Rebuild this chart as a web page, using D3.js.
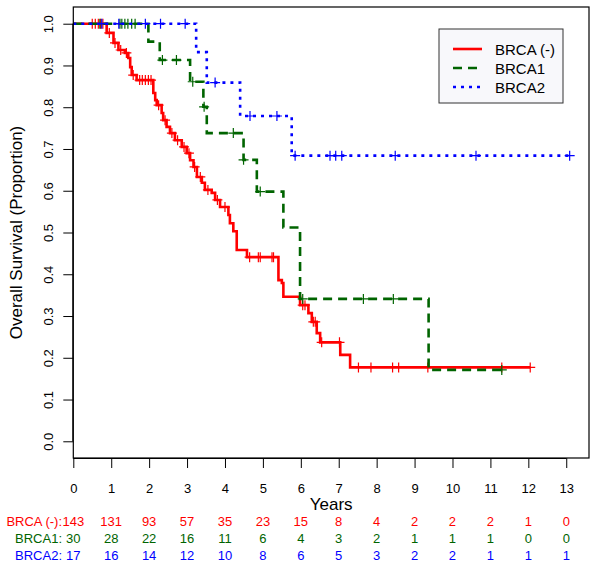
<!DOCTYPE html>
<html>
<head>
<meta charset="utf-8">
<script src="https://cdn.jsdelivr.net/npm/d3@7"></script>
<style>
  html, body { margin: 0; padding: 0; background: #fff; }
  svg text { font-family: "Liberation Sans", Arial, sans-serif; }
</style>
</head>
<body>
<svg id="chart" width="600" height="572"></svg>
<script>
// ---------------- data ----------------
const groups = ["BRCA (-)", "BRCA1", "BRCA2"];
const groupColors = ["#ff0000", "#006400", "#0000ff"];

// BRCA (-) : event times (years) and survival after each step
const negTimes = [0.88,1.06,1.19,1.36,1.45,1.50,1.54,1.67,2.11,2.16,2.20,2.33,2.37,2.46,2.55,2.68,2.86,2.99,3.08,3.17,3.26,3.39,3.47,3.65,3.74,3.87,4.09,4.13,4.22,4.31,4.58,5.41,5.50,5.54,5.98,6.20,6.29,6.42,6.51,7.04,7.30];
const negSurv  = [0.978,0.954,0.937,0.930,0.918,0.896,0.877,0.865,0.834,0.817,0.805,0.786,0.769,0.753,0.738,0.721,0.705,0.690,0.673,0.657,0.633,0.619,0.602,0.595,0.578,0.561,0.542,0.522,0.503,0.458,0.441,0.386,0.379,0.346,0.326,0.307,0.286,0.259,0.237,0.207,0.177];
const negEnd = 12.05;
const negCensor = [0.50,0.58,0.66,0.72,0.78,0.95,1.10,1.25,1.40,1.58,1.75,1.82,1.90,1.98,2.05,2.25,2.42,2.60,2.75,2.92,3.05,3.20,3.35,3.55,3.80,4.00,4.65,4.88,4.93,5.24,5.28,6.05,6.11,6.33,6.38,6.55,7.02,7.52,7.85,8.42,8.58,9.35,11.30,12.05];

// BRCA1
const b1Times = [1.98,2.28,3.08,3.43,3.52,4.49,4.84,5.54,5.98,9.37];
const b1Surv  = [0.957,0.913,0.861,0.801,0.738,0.674,0.598,0.512,0.341,0.171];
const b1End = 11.30;
const b1Censor = [0.70,1.23,1.28,1.36,1.44,1.54,1.63,2.35,2.72,3.15,3.45,4.22,4.49,4.93,6.05,7.65,8.44,11.30];

// BRCA2
const b2Times = [3.24,3.52,4.40,5.76];
const b2Surv  = [0.932,0.859,0.779,0.684];
const b2End = 13.09;
const b2Censor = [0.75,1.20,1.90,2.30,2.95,3.74,4.66,5.37,5.85,6.77,6.92,7.08,8.49,10.62,13.09];

// numbers at risk
const riskYears = [0,1,2,3,4,5,6,7,8,9,10,11,12,13];
const riskNeg = [143,131,93,57,35,23,15,8,4,2,2,2,1,0];
const riskB1  = [30,28,22,16,11,6,4,3,2,1,1,1,0,0];
const riskB2  = [17,16,14,12,10,8,6,5,3,2,2,1,1,1];
const riskLabels = ["BRCA (-):", "BRCA1:", "BRCA2:"];

const xTicks = d3.range(0, 14);
const yTicks = [0,0.1,0.2,0.3,0.4,0.5,0.6,0.7,0.8,0.9,1.0];
const xTitle = "Years";
const yTitle = "Overall Survival (Proportion)";

// ---------------- drawing ----------------
(function () {
const svg = d3.select("#chart");
const pL = 73.3, pR = 589, pT = 7, pB = 458;
const x = d3.scaleLinear().domain([0, 13.6]).range([pL, pR]);
const y = d3.scaleLinear().domain([-0.04, 1.04]).range([pB, pT]);

const series = [
  {times: negTimes, surv: negSurv, end: negEnd, censor: negCensor, color: groupColors[0], dash: null, width: 2.6},
  {times: b1Times, surv: b1Surv, end: b1End, censor: b1Censor, color: groupColors[1], dash: "9,6", width: 2.6},
  {times: b2Times, surv: b2Surv, end: b2End, censor: b2Censor, color: groupColors[2], dash: "3,5", width: 2.6}
];

function survAt(s, t) {
  let v = 1;
  for (let i = 0; i < s.times.length; i++) if (s.times[i] <= t) v = s.surv[i];
  return v;
}

const line = d3.line().x(d => x(d[0])).y(d => y(d[1])).curve(d3.curveStepAfter);

series.forEach(s => {
  const pts = [[0, 1]];
  s.times.forEach((t, i) => pts.push([t, s.surv[i]]));
  pts.push([s.end, s.surv[s.surv.length - 1]]);
  svg.append("path")
    .attr("d", line(pts))
    .attr("fill", "none")
    .attr("stroke", s.color)
    .attr("stroke-width", s.width)
    .attr("stroke-dasharray", s.dash);
  svg.append("g").selectAll("path").data(s.censor).join("path")
    .attr("transform", t => `translate(${x(t)},${y(survAt(s, t))})`)
    .attr("d", "M-5,0H5M0,-5V5")
    .attr("stroke", s.color)
    .attr("stroke-width", 1.2)
    .attr("fill", "none");
});

// plot box
svg.append("rect")
  .attr("x", pL).attr("y", pT)
  .attr("width", pR - pL).attr("height", pB - pT)
  .attr("fill", "none").attr("stroke", "#000").attr("stroke-width", 1.2);

// x axis
const xAxis = d3.axisBottom(x).tickValues(xTicks).tickSize(10).tickFormat(d3.format("d"));
const gx = svg.append("g").attr("transform", `translate(0,${pB})`).call(xAxis);
gx.select(".domain").attr("d", `M${x(0)},0.5H${x(13)}`);
gx.selectAll(".tick line").attr("stroke", "#000");
gx.selectAll("text").attr("font-size", 13).attr("fill", "#000").attr("dy", "0").attr("y", 35);

// y axis
const yAxis = d3.axisLeft(y).tickValues(yTicks).tickSize(10).tickFormat(d3.format(".1f"));
const gy = svg.append("g").attr("transform", `translate(${pL},0)`).call(yAxis);
gy.select(".domain").attr("d", `M-0.5,${y(0)}V${y(1)}`);
gy.selectAll(".tick line").attr("stroke", "#000");
gy.selectAll("text")
  .attr("font-size", 13).attr("fill", "#000")
  .attr("x", 0).attr("dy", 0)
  .attr("text-anchor", "middle")
  .attr("transform", "translate(-20,0) rotate(-90)");

// axis titles
svg.append("text").attr("x", (pL + pR) / 2).attr("y", 510)
  .attr("text-anchor", "middle").attr("font-size", 17).text(xTitle);
svg.append("text")
  .attr("transform", `translate(22,${(pT + pB) / 2}) rotate(-90)`)
  .attr("text-anchor", "middle").attr("font-size", 17).text(yTitle);

// legend
const lg = svg.append("g");
lg.append("rect").attr("x", 439).attr("y", 29).attr("width", 124).attr("height", 74)
  .attr("fill", "#f8f8fb").attr("stroke", "#333").attr("stroke-width", 1);
groups.forEach((g, i) => {
  const yy = 49 + i * 19;
  lg.append("line").attr("x1", 453).attr("x2", 482).attr("y1", yy).attr("y2", yy)
    .attr("stroke", series[i].color).attr("stroke-width", 2.6)
    .attr("stroke-dasharray", series[i].dash);
  lg.append("text").attr("x", 495).attr("y", yy + 5.5).attr("font-size", 15).text(g);
});

// numbers at risk
const riskRows = [riskNeg, riskB1, riskB2];
riskRows.forEach((row, i) => {
  const yy = 526 + i * 17;
  svg.append("text").attr("x", 62).attr("y", yy).attr("text-anchor", "end")
    .attr("font-size", 13).attr("fill", groupColors[i]).text(riskLabels[i]);
  svg.append("g").selectAll("text").data(row).join("text")
    .attr("x", (d, j) => x(riskYears[j])).attr("y", yy)
    .attr("text-anchor", "middle").attr("font-size", 13)
    .attr("fill", groupColors[i]).text(d => d);
});
})();
</script>
</body>
</html>
